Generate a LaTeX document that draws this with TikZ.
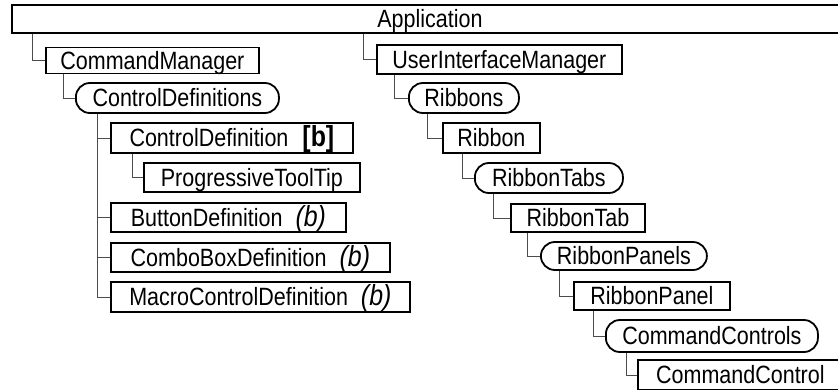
\documentclass[tikz,border=0pt]{standalone}
\usepackage{fontspec}
\setmainfont{Liberation Sans}[FakeStretch=0.86]
\begin{document}
\begin{tikzpicture}[x=1pt,y=-1pt,
  every node/.style={font=\fontsize{25}{28}\selectfont, text height=17.5pt, text depth=0pt, inner sep=0pt, anchor=west},
  bx/.style={draw, line width=1.8pt, rectangle, minimum height=29pt},
  pill/.style={bx, rounded corners=14pt},
  con/.style={line width=1pt, draw=black!70}
]
\useasboundingbox (0,0) rectangle (838,389);
\clip (0,0) rectangle (838,389);
% nodes
\node[bx, minimum width=836pt, minimum height=28pt] (app) at (11,19) {Application};
\node[bx, minimum width=213pt, minimum height=26pt] (cm) at (45,60.5) {CommandManager};
\node[pill, minimum width=203pt, minimum height=30pt] (cds) at (75,98) {ControlDefinitions};
\node[bx, minimum width=242pt, minimum height=30pt] (cd) at (110,138) {ControlDefinition\hspace{14pt}{\fontsize{29}{30}\selectfont\bfseries [b]}};
\node[bx, minimum width=216pt] (ptt) at (143,177.5) {ProgressiveToolTip};
\node[bx, minimum width=235pt] (bd) at (110,217.5) {ButtonDefinition\hspace{13pt}{\fontsize{29}{30}\selectfont\itshape (b)}};
\node[bx, minimum width=279pt] (cbd) at (110,257.5) {ComboBoxDefinition\hspace{13pt}{\fontsize{29}{30}\selectfont\itshape (b)}};
\node[bx, minimum width=299pt, minimum height=30pt] (mcd) at (110,297) {MacroControlDefinition\hspace{13pt}{\fontsize{29}{30}\selectfont\itshape (b)}};
\node[bx, minimum width=245pt] (uim) at (376,59.5) {UserInterfaceManager};
\node[pill, minimum width=110pt, minimum height=30pt] (ribbons) at (408,98) {Ribbons};
\node[bx, minimum width=97pt, minimum height=30pt] (ribbon) at (442,138) {Ribbon};
\node[pill, minimum width=148pt, minimum height=30pt] (tabs) at (474,178) {RibbonTabs};
\node[bx, minimum width=134pt, minimum height=28pt] (tab) at (510,218) {RibbonTab};
\node[pill, minimum width=166pt, minimum height=28pt] (panels) at (540,256) {RibbonPanels};
\node[bx, minimum width=156pt, minimum height=28pt] (panel) at (573,296) {RibbonPanel};
\node[pill, minimum width=212pt, minimum height=32pt] (ccs) at (605,336) {CommandControls};
\node[bx, minimum width=205pt, minimum height=30pt] (cc) at (637,375) {CommandControl};
% connectors
\draw[con] ([xshift=21pt]app.south west) |- (cm.west);
\draw[con] ([xshift=352pt]app.south west) |- (uim.west);
\draw[con] ([xshift=18pt]cm.south west) |- (cds.west);
\draw[con] ([xshift=22pt]cds.south west) |- (cd.west);
\draw[con] ([xshift=22pt]cds.south west) |- (bd.west);
\draw[con] ([xshift=22pt]cds.south west) |- (cbd.west);
\draw[con] ([xshift=22pt]cds.south west) |- (mcd.west);
\draw[con] ([xshift=22pt]cd.south west) |- (ptt.west);
\draw[con] ([xshift=18pt]uim.south west) |- (ribbons.west);
\draw[con] ([xshift=19pt]ribbons.south west) |- (ribbon.west);
\draw[con] ([xshift=20pt]ribbon.south west) |- (tabs.west);
\draw[con] ([xshift=19pt]tabs.south west) |- (tab.west);
\draw[con] ([xshift=17pt]tab.south west) |- (panels.west);
\draw[con] ([xshift=19pt]panels.south west) |- (panel.west);
\draw[con] ([xshift=20pt]panel.south west) |- (ccs.west);
\draw[con] ([xshift=21pt]ccs.south west) |- (cc.west);
\end{tikzpicture}
\end{document}
